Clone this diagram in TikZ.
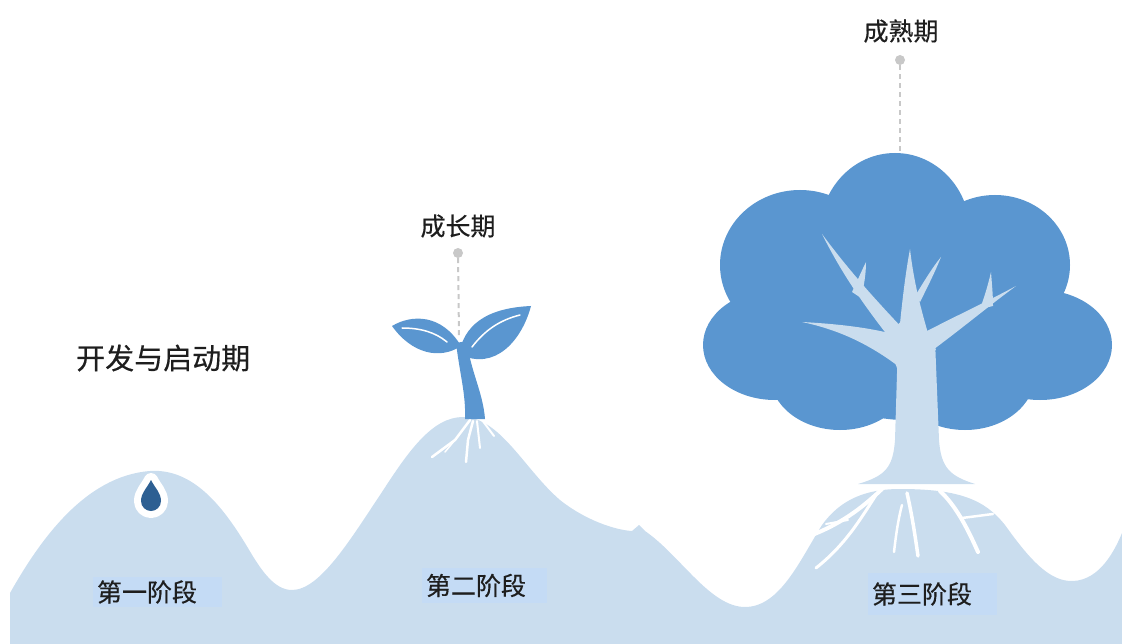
\documentclass[tikz,border=0pt]{standalone}
\usepackage{fontspec}
\newfontfamily\cjk[FakeBold=0.4]{Noto Sans CJK SC}
\definecolor{hill}{RGB}{202,221,238}
\definecolor{stagebg}{RGB}{196,219,245}
\definecolor{leaf}{RGB}{90,150,208}
\definecolor{drop}{RGB}{45,95,146}
\definecolor{ink}{RGB}{30,30,30}
\definecolor{guide}{RGB}{200,200,200}
\tikzset{
  stage/.style={fill=stagebg,text=ink,font=\cjk\fontsize{25}{30}\selectfont,
    inner xsep=4pt,inner ysep=0pt,align=left},
  phase/.style={text=ink,font=\cjk\fontsize{25}{30}\selectfont,inner sep=0pt},
  leader/.style={guide,line width=2pt,dash pattern=on 5pt off 4pt},
  pin/.style={circle,fill=guide,inner sep=0pt,minimum size=10pt},
  rootline/.style={white,line cap=round,line join=round},
}
\begin{document}
\begin{tikzpicture}[x=1pt,y=-1pt]
  \useasboundingbox (0,0) rectangle (1122,644);
  \fill[hill] (10,644) -- (10,593)
    .. controls (40,540) and (85,476) .. (150,471)
    .. controls (195,468) and (225,510) .. (248,548)
    .. controls (262,572) and (275,590) .. (292,590)
    .. controls (320,590) and (350,540) .. (382,492)
    .. controls (408,452) and (432,417) .. (463,417)
    .. controls (500,417) and (525,470) .. (560,500)
    .. controls (585,520) and (615,530) .. (632,531)
    -- (639,525) -- (645,531)
    .. controls (680,555) and (710,607) .. (745,607)
    .. controls (780,607) and (800,560) .. (822,525)
    .. controls (840,500) and (865,489) .. (900,489)
    .. controls (960,489) and (985,500) .. (1005,525)
    .. controls (1030,560) and (1050,582) .. (1073,581)
    .. controls (1100,580) and (1115,550) .. (1122,533)
    -- (1122,644) -- cycle;

  \node[stage,text width=121pt,minimum height=30pt] (stage1) at (157.5,592) {第一阶段};
  \node[stage,text width=117pt,minimum height=35pt] (stage2) at (484.5,585.5) {第二阶段};
  \node[stage,text width=121pt,minimum height=42pt] (stage3) at (932.5,594) {第三阶段};

  \draw[white,line width=14pt,line join=round] (151,480) .. controls (155,488) and (161,493) .. (161,501)
    .. controls (161,507) and (156,511) .. (151,511) .. controls (146,511) and (141,507) .. (141,501)
    .. controls (141,493) and (147,488) .. cycle;
  \fill[drop] (151,480) .. controls (155,488) and (161,493) .. (161,501)
    .. controls (161,507) and (156,511) .. (151,511) .. controls (146,511) and (141,507) .. (141,501)
    .. controls (141,493) and (147,488) .. cycle;

  \draw[rootline,line width=2.5pt] (470,420) -- (455,440) -- (432,457);
  \draw[rootline,line width=1.5pt] (455,440) -- (445,452);
  \draw[rootline,line width=2.5pt] (473,421) -- (468,440) -- (466,462);
  \draw[rootline,line width=2pt] (477,421) -- (480,448);
  \draw[rootline,line width=2pt] (482,420) -- (494,436);

  \fill[leaf] (465,419) .. controls (466,395) and (460,375) .. (456,343)
    -- (467,341) .. controls (470,370) and (483,392) .. (485,419) -- cycle;
  \fill[leaf] (392,326) .. controls (412,314) and (442,314) .. (461,346)
    .. controls (440,360) and (412,354) .. cycle;
  \fill[leaf] (459,354) .. controls (464,326) and (485,308) .. (531,306)
    .. controls (522,340) and (495,372) .. cycle;
  \draw[white,line width=1.5pt,line cap=round] (402,328) .. controls (420,328) and (435,332) .. (447,342);
  \draw[white,line width=1.5pt,line cap=round] (472,347) .. controls (485,330) and (500,320) .. (520,315);

  \node[phase,anchor=west] (startup) at (76,358) {\fontsize{29}{34}\selectfont 开发与启动期};
  \node[phase] (growth) at (458,226) {成长期};
  \node[pin] (growthpin) at (458,253) {};
  \coordinate (sprouttop) at (459,336);
  \draw[leader] (growthpin) -- (sprouttop);

  \node[phase] (mature) at (901,31) {成熟期};
  \node[pin] (maturepin) at (900,60) {};
  \coordinate (crowntop) at (900,153);
  \draw[leader] (maturepin) -- (crowntop);

  \fill[leaf] (895,232) circle [x radius=75, y radius=79];
  \fill[leaf] (800,265) circle [x radius=80, y radius=75];
  \fill[leaf] (995,265) circle [x radius=75, y radius=70];
  \fill[leaf] (775,345) circle [x radius=72, y radius=55];
  \fill[leaf] (1040,345) circle [x radius=72, y radius=55];
  \fill[leaf] (840,375) circle [x radius=70, y radius=55];
  \fill[leaf] (965,375) circle [x radius=70, y radius=55];
  \fill[leaf] (905,320) circle [x radius=120, y radius=100];

  \fill[hill] (858,484) .. controls (885,476) and (893,468) .. (895,440) -- (898,340)
    -- (935,340) -- (939,440) .. controls (941,468) and (950,476) .. (975,484) -- cycle;
  \fill[hill] (885,336) -- (905,318) -- (925,328) -- (936,350) -- (897,368) -- cycle;
  \fill[hill] (898,366) .. controls (870,345) and (840,330) .. (802,322)
    .. controls (840,324) and (870,328) .. (893,334) -- cycle;
  \fill[hill] (888,336) .. controls (860,300) and (840,270) .. (822,234)
    .. controls (845,265) and (868,292) .. (906,332) -- cycle;
  \fill[hill] (852,292) .. controls (857,282) and (861,272) .. (866,262)
    .. controls (866,274) and (864,286) .. (861,298) -- cycle;
  \fill[hill] (898,345) .. controls (902,300) and (906,270) .. (910,249)
    .. controls (913,275) and (918,300) .. (930,340) -- cycle;
  \fill[hill] (915,296) .. controls (925,280) and (932,268) .. (941,257)
    .. controls (935,272) and (928,286) .. (920,302) -- cycle;
  \fill[hill] (930,352) .. controls (960,330) and (990,305) .. (1016,286)
    .. controls (990,300) and (960,314) .. (925,332) -- cycle;
  \fill[hill] (980,309) .. controls (985,295) and (988,285) .. (991,272)
    .. controls (992,285) and (993,295) .. (993,306) -- cycle;

  \draw[rootline,line width=4pt] (882,489) .. controls (865,505) and (845,522) .. (812,535);
  \draw[rootline,line width=3pt] (876,495) .. controls (860,520) and (845,545) .. (816,568);
  \draw[rootline,line width=2pt] (848,520) -- (826,524);
  \draw[rootline,line width=3.5pt] (907,493) .. controls (912,515) and (915,535) .. (918,556);
  \draw[rootline,line width=2.5pt] (902,505) .. controls (898,520) and (896,535) .. (894,552);
  \draw[rootline,line width=4pt] (940,491) .. controls (955,505) and (966,525) .. (978,552);
  \draw[rootline,line width=2.5pt] (962,518) -- (993,514);
\end{tikzpicture}
\end{document}
